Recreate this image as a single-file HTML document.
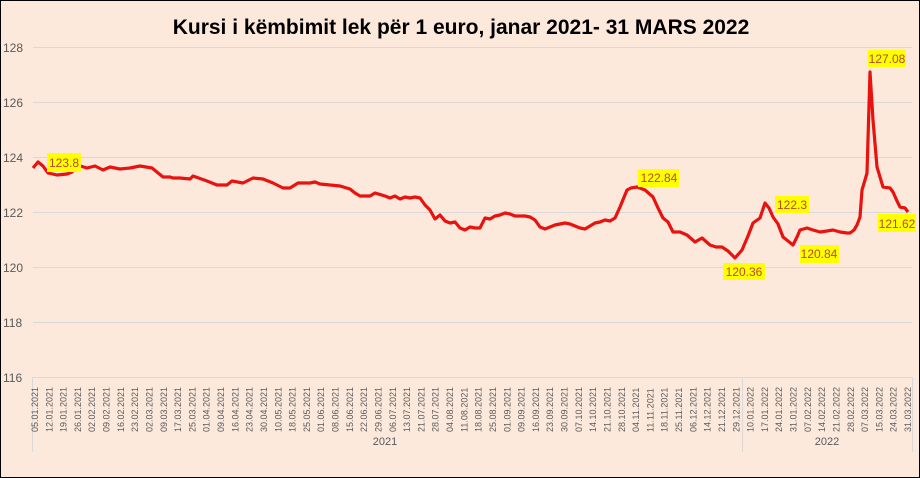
<!DOCTYPE html>
<html><head><meta charset="utf-8"><style>
body{margin:0;background:#fff}
.c{position:relative;width:918px;height:476px;border:1px solid #000;background:#fce9dc;font-family:"Liberation Sans",sans-serif;overflow:hidden}
</style></head><body><div class="c">
<svg width="918" height="476" viewBox="1 1 918 476" style="position:absolute;left:0;top:0">
<text x="461" y="34" text-anchor="middle" font-size="21" font-weight="bold" fill="#000" font-family="Liberation Sans, sans-serif">Kursi i këmbimit lek për 1 euro, janar 2021- 31 MARS 2022</text>
<g stroke="#d9d9d9" stroke-width="1">
<line x1="33" x2="912" y1="47.5" y2="47.5"/><line x1="33" x2="912" y1="102.5" y2="102.5"/><line x1="33" x2="912" y1="157.5" y2="157.5"/><line x1="33" x2="912" y1="212.5" y2="212.5"/><line x1="33" x2="912" y1="267.5" y2="267.5"/><line x1="33" x2="912" y1="322.5" y2="322.5"/><line x1="33" x2="912" y1="377.5" y2="377.5"/>
<line x1="32.5" x2="32.5" y1="377" y2="452"/><line x1="742.5" x2="742.5" y1="377" y2="452"/><line x1="912.5" x2="912.5" y1="377" y2="452"/>
</g>
<g font-size="12" fill="#595959" font-family="Liberation Sans, sans-serif">
<text x="3" y="52">128</text><text x="3" y="107">126</text><text x="3" y="162">124</text><text x="3" y="217">122</text><text x="3" y="272">120</text><text x="3" y="327">118</text><text x="3" y="382">116</text>
<text x="385" y="445" text-anchor="middle" font-size="11">2021</text><text x="827" y="445" text-anchor="middle" font-size="11">2022</text>
</g>
<g id="xl" font-size="9" fill="#595959" font-family="Liberation Sans, sans-serif"></g>
<polyline fill="none" stroke="#e8120f" stroke-width="3.2" stroke-linejoin="round" points="33,168 38,162 43,166 48,173 57,175 67,174 72,172 77,165 87,168 95,166 103,170 110,167 120,169 130,168 140,166 152,168 163,177 170,177 173,178 180,178 190,179 193,176 207,181 217,185 227,185 232,181 243,183 253,178 263,179 273,183 283,188 290,188 298,183 310,183 315,182 320,184 330,185 340,186 350,189 355,193 360,196 370,196 375,193 385,196 390,198 395,196 400,199 405,197 410,198 415,197 420,198 425,205 430,210 435,219 440,215 445,221 450,223 455,222 460,228 465,230 470,227 475,228 480,228 485,218 490,219 495,216 500,215 505,213 510,214 515,216 520,216 525,216 530,217 535,220 540,227 545,229 550,227 555,225 560,224 565,223 570,224 575,226 580,228 585,229 590,226 595,223 600,222 605,220 610,221 615,218 620,207 627,190 631,188 637,187 645,190 653,197 658,208 663,218 668,222 673,232 680,232 687,235 695,242 702,238 710,245 716,247 722,247 728,251 735,258 742,250 748,236 753,223 760,218 765,203 769,208 773,217 778,224 783,237 788,241 793,245 797,237 800,230 807,228 813,230 820,232 827,231 833,230 840,232 847,233 850,233 854,230 857,225 860,217 862,190 865,180 867,173 870,72 873,120 877,167 883,187 890,188 893,192 897,201 900,207 905,208 908,212"/>
<g font-size="12" font-family="Liberation Sans, sans-serif">
<rect x="47" y="153" width="34" height="19" fill="#ffff00"/><text x="64" y="167" text-anchor="middle" fill="#b8482a">123.8</text>
<rect x="638" y="169" width="41" height="18" fill="#ffff00"/><text x="659" y="182" text-anchor="middle" fill="#b8482a">122.84</text>
<rect x="775" y="196" width="34" height="17" fill="#ffff00"/><text x="792" y="209" text-anchor="middle" fill="#b8482a">122.3</text>
<rect x="723" y="263" width="42" height="17" fill="#ffff00"/><text x="744" y="276" text-anchor="middle" fill="#b8482a">120.36</text>
<rect x="800" y="245" width="39" height="18" fill="#ffff00"/><text x="819" y="258" text-anchor="middle" fill="#b8482a">120.84</text>
<rect x="868" y="50" width="38" height="17" fill="#ffff00"/><text x="887" y="63" text-anchor="middle" fill="#b8482a">127.08</text>
<rect x="878" y="214" width="38" height="18" fill="#ffff00"/><text x="897" y="228" text-anchor="middle" fill="#b8482a">121.62</text>
</g>
</svg>
<script>
var d="05.01.2021 12.01.2021 19.01.2021 26.01.2021 02.02.2021 09.02.2021 16.02.2021 23.02.2021 02.03.2021 09.03.2021 17.03.2021 25.03.2021 01.04.2021 09.04.2021 16.04.2021 23.04.2021 30.04.2021 10.05.2021 18.05.2021 25.05.2021 01.06.2021 08.06.2021 15.06.2021 22.06.2021 29.06.2021 06.07.2021 13.07.2021 21.07.2021 28.07.2021 04.08.2021 11.08.2021 18.08.2021 25.08.2021 01.09.2021 09.09.2021 16.09.2021 23.09.2021 30.09.2021 07.10.2021 14.10.2021 21.10.2021 28.10.2021 04.11.2021 11.11.2021 18.11.2021 25.11.2021 06.12.2021 14.12.2021 21.12.2021 29.12.2021 10.01.2022 17.01.2022 24.01.2022 31.01.2022 07.02.2022 14.02.2022 21.02.2022 28.02.2022 07.03.2022 15.03.2022 24.03.2022 31.03.2022".split(" ");
var g=document.getElementById("xl"),s="";
for(var i=0;i<d.length;i++){var x=38+i*(911-38)/(d.length-1);s+='<text transform="translate('+x.toFixed(1)+',432) rotate(-90)">'+d[i]+'</text>';}
g.innerHTML=s;
</script>
</div></body></html>
